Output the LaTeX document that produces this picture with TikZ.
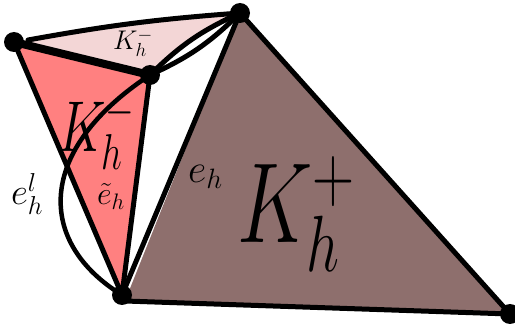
\RequirePackage{fix-cm}
\documentclass[tikz,border=0pt]{standalone}
\definecolor{kred}{HTML}{FF8080}
\definecolor{kpink}{HTML}{F3D6D6}
\definecolor{kbrown}{HTML}{8E6F6D}
\begin{document}
\begin{tikzpicture}[x=1pt,y=-1pt,
  dot/.style={circle,fill=black,inner sep=0pt,minimum size=20pt},
  edge/.style={line width=5pt,line join=round,line cap=round},
  arcedge/.style={line width=4.5pt,line cap=round},
  thickedge/.style={line width=8pt,line cap=round},
  lbl/.style={inner sep=0pt,anchor=base west}]
\useasboundingbox (0,0) rectangle (515,334);
\coordinate (A) at (14,42);
\coordinate (At) at (28,40);
\coordinate (B) at (240,13);
\coordinate (C) at (150,75);
\coordinate (D) at (122,295);
\coordinate (Db) at (125,301);
\coordinate (E) at (510,314);
% fills
\fill[kbrown] (B) -- (Db) -- (E) -- cycle;
\fill[kred] (A) -- (C) -- (D) -- cycle;
\fill[kpink] (At) to[bend left=3] (B) to[bend right=10] (C) -- (A) -- cycle;
% labels
\node[lbl] (ktop) at (113,50) {\fontsize{27}{27}\selectfont$K_h^-$};
\node[lbl] (kminus) at (58,152) {\scalebox{0.73}[1]{\fontsize{72}{72}\selectfont$K_h^-$}};
\node[lbl] (kplus) at (237,243) {\scalebox{0.73}[1]{\fontsize{114}{114}\selectfont$K_h^+$}};
\node[lbl] (ehl) at (11,205) {\fontsize{37}{37}\selectfont$e_h^l$};
\node[lbl] (eht) at (97,205) {\fontsize{32}{32}\selectfont$\tilde{e}_h$};
\node[lbl] (eh) at (188,183) {\fontsize{40}{40}\selectfont$e_h$};
% edges
\draw[edge] (B) -- (E) -- (Db);
\draw[edge] (B) -- (D);
\draw[edge] (A) -- (D) -- (C);
\draw[edge] (At) to[bend left=3] (B);
\draw[edge] (C) to[bend left=10] (B);
\draw[edge] (C) to[bend right=10] (B);
\draw[arcedge] (C) .. controls (36,150) and (36,242) .. (D);
\draw[thickedge] (A) -- (C);
% dots
\node[dot] (a) at (A) {};
\node[dot] (b) at (B) {};
\node[dot] (c) at (C) {};
\node[dot] (d) at (D) {};
\node[dot] (e) at (E) {};
\end{tikzpicture}
\end{document}
